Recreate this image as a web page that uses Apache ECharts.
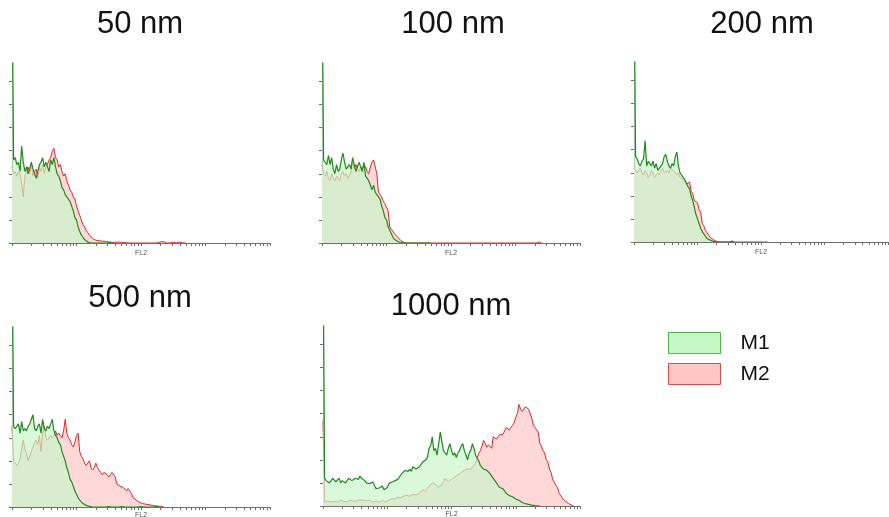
<!DOCTYPE html>
<html>
<head>
<meta charset="utf-8">
<title>FL2 histograms</title>
<script src="https://cdn.jsdelivr.net/npm/echarts/dist/echarts.min.js"></script>
<style>
  html, body { margin: 0; padding: 0; background: #ffffff; }
  #chart { width: 889px; height: 517px; }
</style>
</head>
<body>
<div id="chart"></div>
<script>
// ---------------- data (counts per FL2 channel, channel width = 0.025 decade) ----------------
const TITLES = ['50 nm', '100 nm', '200 nm', '500 nm', '1000 nm'];
const SERIES_NAMES = ['M1', 'M2'];
const X_DECADES = [0, 1, 2, 3, 4];          // log10 of FL2 (1 .. 10^4)
const Y_TICKS = [0, 10, 20, 30, 40, 50, 60, 70];
const Y_MAX = 78;
const BIN = 0.025;

const M1_50 = [120,36,37,34,35,31,42,35,31,33, 30,32,35,32,30,28,31,34,35,37,
  33,35,33,31,36,34,37,33,30,29, 27,24,23,21,20,19,18,16,14,11,
  10,7,5,3.5,2.5,1.5,1,0.4,0,0, 0.3,0,0.2,0,0,0,0,0,0,0, 0,0.4,0];
const M2_50 = [33,30,31,29,31,30,26,20,29,31, 33,30,34,29,31,32,28,33,31,34,
  30,33,34,36,37,40,41,37,36,33, 34,31,29,30,27,25,23,22,20,19,
  16,14,12,10,8,7,5.5,4.5,3.5,3, 2,1.5,1.2,0.8,1,0.6,0.8,0.3,0.7,0.5,
  0.4,0.6,0.2,0.5,0.3,0.2,0.4,0,0.3,0, 0.2,0,0,0,0,0,0,0,0,0,
  0,0,0,0,0,0,0,0,0,0, 0,0,0.5,0.3,0.6,0,0,0.4,0,0.5,
  0.3,0,0,0.5,0.4,0,0,0.3,0];

const M1_100 = [120,36,35,34,38,34,37,32,30,34, 31,32,36,39,35,32,33,34,32,37,
  34,31,33,35,33,31,35,29,28,27, 25,23,25,22,21,20,19,16,14,11,
  10,7,5.5,4,2.5,1.5,1.2,0.6,0.4,0.2, 0,0,0,0,0.3,0,0,0,0.4,0,
  0,0,0.3,0,0,0,0.4,0];
const M2_100 = [34,30,29,31,28,27,30,28,27,29, 28,27,30,31,29,30,28,29,31,35,
  32,34,32,31,33,32,34,33,31,30, 33,35,36,33,30,22,21,20,18,17,
  17,14,7,6,5.5,4,3.5,2.5,2,1, 0.5,0.2,0,0,0,0,0,0,0,0,
  0,0,0,0,0,0,0,0,0,0, 0,0,0,0,0,0,0,0,0,0,
  0,0,0,0,0,0,0,0,0,0, 0,0,0,0,0,0,0,0,0,0,
  0,0,0,0,0,0,0,0,0,0, 0,0,0,0,0,0,0,0,0,0,
  0,0,0,0,0,0,0,0,0,0, 0,0,0,0,0,0.4,0];

const M1_200 = [120,37,36,34,33,35,36,44,33,35, 34,33,35,32,34,31,32,33,34,37,
  38,35,33,32,34,33,37,39,33,30, 29,28,27,27,24,23,20,18,15,12,
  10,8,6,4.5,3.5,2.5,1.5,1,0.8,0.5, 0.3,0.1,0,0,0,0,0,0,0,0,
  0,0,0.4,0];
const M2_200 = [32,31,30,31,32,30,29,31,30,28, 29,31,30,28,28,30,29,31,32,30,
  30,31,30,32,32,31,31,29,30,28, 28,27,27,25,25,26,22,21,18,18,
  17,14,13,8,7,5,4,3,2,1.5, 1,0.6,0.3,0.2,0,0,0,0,0,0,
  0,0,0,0,0,0,0,0,0,0, 0,0,0,0.5,0,0,0,0,0,0,
  0,0,0,0.4,0];

const M1_500 = [120,35,34,35,36,32,37,33,34,33, 35,36,38,40,34,33,35,36,32,38,
  34,33,35,34,36,38,33,31,30,28, 27,24,22,20,17,15,12,11,9,7,
  5.5,4,3,2.5,1.5,1,0.7,0.5,0.3,0.2, 0,0,0,0,0,0.3,0,0,0,0,
  0.2,0,0,0.4,0,0,0,0,0.2,0, 0,0,0,0,0,0.3,0,0,0,0,
  0.2,0,0,0,0,0,0,0,0,0, 0.3,0];
const M2_500 = [35,20,19,18,19,21,25,29,25,23, 20,22,24,26,28,29,27,31,24,32,
  35,30,29,29,31,30,31,33,31,32, 31,30,33,38,32,30,29,27,26,28,
  31,32,24,22,21,19,18,19,20,17, 16,17,19,17,16,15,14,15,15,14,
  13,14,15,15,13,10,10,9,9,8.5, 8,7,8,8,6,4,3.5,3,2.5,2,
  2.5,1.5,2,1.2,1.5,1,1.2,0.7,0.8,0.5, 0.6,0.3,0.2,0.3,0];

const M1_1000 = [120,12,11,11.5,10,11,12,12,10.5,11, 12,10,11,11.5,10,10.4,12,12.5,11,11,
  12,12,11.5,13,12,11.5,11,10,9.5,9.7, 9.5,10.4,9,7.5,8,7.8,8.5,8.7,7,6.5,
  8,9.7,10,10.4,11,11,11.5,11.8,13,14, 14.5,15.4,15,15,16,15,17,17,16,15.4,
  17,18,19,19,20,21,25,26,30,24, 25,22,27,32,28,24,23,22,25,27,
  24,22,23,21,23,24,26,27,24,22, 20,23,24,27,25,22,22,19.5,17.5,17,
  16,16,15.5,15,14,13.5,12,11.5,10,9, 8,7.5,7.5,6.5,5.5,5.5,4.5,4.5,4,3.5,
  3,2.5,2.5,2,1.5,1.2,1,0.8,0.7,0.5, 0.4,0.3,0.2,0.2,0.1,0];
const M2_1000 = [37,1.7,2,2.2,1.8,1.7,2,2,1.5,1.7, 2.5,2.5,1.8,2,1.5,1.7,2.2,2.5,2,2,
  2.5,2.2,2.5,2.7,2.2,2.5,2,2.2,2.6,2.5, 1.8,1.7,2.2,2.2,1.6,1.7,2.4,2.5,1.8,1.7,
  2.4,2.5,3,3.2,2.8,2.9,3.8,3.9,3.6,3.6, 4.2,4.2,4.6,4.6,4.3,4.6,5,5.3,4.8,4.6,
  5.5,6,7,7.5,6.5,6.8,8.5,9,10,10.5, 9.5,9.7,8,7.5,9.5,10.5,12,12.5,10.5,10.4,
  11.5,11,12.5,12.5,13.5,14,14.5,15,15.5,15.5, 16,16.5,16,17,16.9,18.3,21,22.7,24,26,
  28.4,27,25.5,26.5,27,25,30,30.3,29,30, 31,31.7,31,32.5,34,34.6,33,33,35,36,
  38.5,40,44,42,41,41.5,43,43.5,42,40, 38,35,34,33,32,27,26,24,23,20,
  19,16,14.5,11.5,11,9,8,5.5,5,3.5, 3,2,1.7,1,0.6,0.3,0];

const M1_DATA = [M1_50, M1_100, M1_200, M1_500, M1_1000];
const M2_DATA = [M2_50, M2_100, M2_200, M2_500, M2_1000];

// ---------------- layout ----------------
const GRIDS = [
  { left: 12,  top: 63,  width: 258, height: 180 },
  { left: 322, top: 63,  width: 258, height: 180 },
  { left: 634, top: 62,  width: 254, height: 180 },
  { left: 12,  top: 327, width: 258, height: 180 },
  { left: 323, top: 326, width: 257, height: 180 }
];
const NAME_GAPS = [7, 7, 7, 5, 5];
const TITLE_POS = [[140, 24.5], [453, 24.5], [762, 24.5], [140, 298], [451, 306]];

const GREEN_LINE = '#1f8c1f';
const RED_LINE = '#e22626';
const GREEN_FILL = 'rgba(202,245,202,0.7)';
const RED_FILL = '#ffd8d8';
const AXIS_COLOR = '#6e6e6e';

// log-decade minor tick positions
const X_TICKS = [];
for (let d = 0; d < X_DECADES.length - 1; d++) {
  for (let k = 1; k < 10; k++) X_TICKS.push(X_DECADES[d] + Math.log10(k));
}
X_TICKS.push(X_DECADES[X_DECADES.length - 1]);

const toPairs = arr => arr.map((v, i) => [i * BIN, v]);

const grid = GRIDS.map(g => Object.assign({ outerBoundsMode: 'none', containLabel: false }, g));
const xAxis = [], yAxis = [], series = [], graphic = [];

TITLES.forEach((t, k) => {
  xAxis.push({
    type: 'value', gridIndex: k, min: X_DECADES[0], max: X_DECADES[X_DECADES.length - 1],
    z: 10,
    axisLine: { show: true, lineStyle: { color: AXIS_COLOR, width: 1 } },
    axisTick: { show: true, customValues: X_TICKS, length: 3, inside: false,
                lineStyle: { color: AXIS_COLOR, width: 1 } },
    axisLabel: { show: false },
    splitLine: { show: false },
    name: 'FL2', nameLocation: 'middle', nameGap: NAME_GAPS[k],
    nameTextStyle: { fontSize: 7, color: '#555', fontFamily: 'Liberation Sans' }
  });
  yAxis.push({
    type: 'value', gridIndex: k, min: 0, max: Y_MAX,
    axisLine: { show: true, lineStyle: { color: AXIS_COLOR, width: 1 } },
    axisTick: { show: true, customValues: Y_TICKS, length: 3, inside: false,
                lineStyle: { color: AXIS_COLOR, width: 1 } },
    axisLabel: { show: false },
    splitLine: { show: false }
  });
  series.push({
    name: SERIES_NAMES[1], type: 'line', xAxisIndex: k, yAxisIndex: k,
    data: toPairs(M2_DATA[k]), showSymbol: false, symbol: 'none', clip: true,
    color: RED_LINE,
    lineStyle: { color: RED_LINE, width: 1 },
    areaStyle: { color: RED_FILL, opacity: 1 },
    silent: true, z: 2
  });
  series.push({
    name: SERIES_NAMES[0], type: 'line', xAxisIndex: k, yAxisIndex: k,
    data: toPairs(M1_DATA[k]), showSymbol: false, symbol: 'none', clip: true,
    color: GREEN_LINE,
    lineStyle: { color: GREEN_LINE, width: 1.2 },
    areaStyle: { color: GREEN_FILL, opacity: 1 },
    silent: true, z: 3
  });
  graphic.push({
    type: 'text', x: TITLE_POS[k][0], y: TITLE_POS[k][1],
    style: { text: t, fill: '#111', font: '31px "Liberation Sans", Arial, sans-serif',
             align: 'center', verticalAlign: 'middle' }
  });
});

const chart = echarts.init(document.getElementById('chart'), null, { renderer: 'canvas', width: 889, height: 517 });
chart.setOption({
  animation: false,
  backgroundColor: '#ffffff',
  grid, xAxis, yAxis, series, graphic,
  legend: {
    orient: 'vertical', left: 668, top: 332, padding: 0,
    itemWidth: 52, itemHeight: 21, itemGap: 9, icon: 'rect', selectedMode: false,
    data: [
      { name: SERIES_NAMES[0], itemStyle: { color: '#c6f8c6', borderColor: '#4cb84c', borderWidth: 1 } },
      { name: SERIES_NAMES[1], itemStyle: { color: '#ffc6c6', borderColor: '#e04848', borderWidth: 1 } }
    ],
    textStyle: { fontSize: 21, color: '#111', fontFamily: 'Liberation Sans', padding: [0, 0, 0, 15] }
  }
});
</script>
</body>
</html>
